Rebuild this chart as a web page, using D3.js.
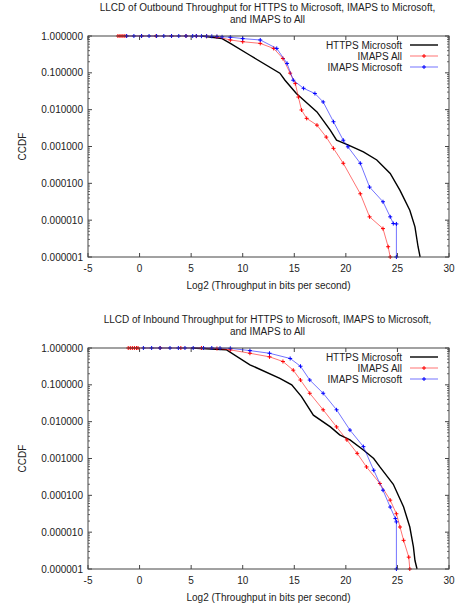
<!DOCTYPE html>
<html>
<head>
<meta charset="utf-8">
<script src="https://cdn.jsdelivr.net/npm/d3@7"></script>
<style>
  body { margin: 0; background: #fff; }
  text { font-family: "Liberation Sans", Arial, sans-serif; fill: #222; }
</style>
</head>
<body>
<div id="chart"></div>
<script>
// values: [log2 throughput, CCDF]
const xTicks = [-5, 0, 5, 10, 15, 20, 25, 30];
const yTicks = [1, 0.1, 0.01, 0.001, 0.0001, 0.00001, 0.000001];
const seriesNames = ["HTTPS Microsoft", "IMAPS All", "IMAPS Microsoft"];

const outHttps = [[6.0,1.0],[8.0,0.85],[8.8,0.63],[10.7,0.30],[13.6,0.098],[14.1,0.063],[15.2,0.0275],
  [17.2,0.0087],[18.5,0.00275],[19.1,0.00148],[20.2,0.0011],[21.7,0.00071],[23.0,0.00043],[24.3,0.000186],
  [25.25,0.0000646],[26.2,0.0000186],[26.7,0.0000066],[27.0,0.0000019],[27.2,0.000001]];
const outImapsAll = [[-2.1,1],[-1.9,1],[-1.7,1],[-1.5,1],[-1.3,1],[0.2,1],[1.6,1],[3.1,1],[4.5,1],[5.5,0.99],
  [6.5,0.98],[7.5,0.95],[8.8,0.78],[10.0,0.70],[11.7,0.63],[13.0,0.46],[13.9,0.245],[14.6,0.098],[15.1,0.051],
  [15.4,0.022],[15.7,0.0098],[16.2,0.0058],[17.2,0.0038],[18.1,0.0018],[18.8,0.00089],[19.75,0.00035],
  [21.4,0.000052],[22.3,0.0000123],[23.6,0.0000059],[24.1,0.0000019],[24.3,0.000001]];
const outImapsMs = [[-1.25,1],[-0.55,1],[0.19,1],[0.92,1],[1.65,1],[2.35,1],[3.1,1],[3.8,1],[4.5,1],[5.15,1],
  [5.5,1],[6.0,0.99],[6.5,0.99],[7.0,0.98],[7.5,0.97],[8.0,0.95],[8.8,0.93],[10.0,0.85],[11.7,0.78],[13.3,0.46],
  [14.3,0.18],[14.9,0.063],[15.9,0.038],[17.0,0.0275],[17.8,0.0162],[18.8,0.0047],[19.75,0.00148],[20.2,0.00098],
  [21.4,0.00035],[22.3,0.000079],[23.6,0.0000316],[24.3,0.0000123],[24.6,0.0000081],[24.9,0.0000079],[24.9,0.000001]];

const inHttps = [[5.0,1.0],[8.4,0.9],[10.7,0.35],[13.6,0.15],[14.75,0.1],[15.7,0.048],[16.85,0.015],[18.5,0.0072],
  [19.4,0.0044],[20.4,0.0032],[21.7,0.0017],[22.7,0.001],[23.3,0.00059],[24.6,0.0002],[25.6,0.000048],
  [26.2,0.0000138],[26.55,0.000004],[26.7,0.0000017],[26.9,0.000001]];
const inImapsAll = [[-1.1,1],[-0.9,1],[-0.7,1],[-0.5,1],[-0.3,1],[-0.15,1],[2.0,1],[4.0,1],[6.0,1],[7.5,0.97],
  [8.8,0.89],[10.7,0.72],[12.6,0.575],[13.9,0.43],[14.9,0.25],[15.6,0.135],[16.5,0.059],[17.8,0.021],[19.1,0.0072],
  [20.1,0.0032],[21.1,0.00138],[22.0,0.00059],[23.3,0.00021],[24.3,0.000074],[24.9,0.0000316],[25.25,0.0000138],
  [25.6,0.000006],[26.1,0.0000021],[26.2,0.000001]];
const inImapsMs = [[0.37,1],[1.17,1],[1.98,1],[2.95,1],[3.76,1],[4.4,1],[5.2,1],[6.2,1],[7.0,1],[7.8,0.99],
  [8.8,0.98],[10.7,0.85],[12.6,0.72],[14.6,0.52],[15.6,0.32],[16.5,0.135],[17.8,0.059],[19.1,0.021],[20.4,0.0059],
  [21.7,0.0021],[22.7,0.00048],[23.6,0.000138],[24.3,0.000048],[24.8,0.0000234],[24.9,0.000019],[24.9,0.000001]];

const titlesOut = ["LLCD of Outbound Throughput for HTTPS to Microsoft, IMAPS to Microsoft,", "and IMAPS to All"];
const titlesIn = ["LLCD of Inbound Throughput for HTTPS to Microsoft, IMAPS to Microsoft,", "and IMAPS to All"];

const W = 458, H = 608;
const left = 88, right = 449;
const colors = ["#000000", "#ff0000", "#0000ff"];

const svg = d3.select("#chart").append("svg").attr("width", W).attr("height", H);

function panel(top, bottom, titles, data) {
  const x = d3.scaleLinear().domain([-5, 30]).range([left, right]);
  const y = d3.scaleLog().domain([0.000001, 1]).range([bottom, top]);
  const g = svg.append("g");

  // titles
  g.selectAll("text.title").data(titles).enter().append("text")
    .attr("x", (left + right) / 2 - 1).attr("y", (d, i) => top - 25 + i * 11.5)
    .attr("text-anchor", "middle").style("font-size", "10px").text(d => d);

  // minor log ticks
  const minors = [];
  for (let e = -6; e < 0; e++) for (let m = 2; m <= 9; m++) minors.push(m * Math.pow(10, e));
  g.selectAll("line.minor").data(minors).enter().append("path")
    .attr("d", d => `M${left},${y(d)}h2M${right},${y(d)}h-2`)
    .attr("stroke", "#444").attr("stroke-width", 0.8);

  // major ticks + labels
  g.selectAll("path.ymaj").data(yTicks).enter().append("path")
    .attr("d", d => `M${left},${y(d)}h4M${right},${y(d)}h-4`)
    .attr("stroke", "#444");
  g.selectAll("text.ylab").data(yTicks).enter().append("text")
    .attr("x", left - 5).attr("y", d => y(d)).attr("dy", "0.35em")
    .attr("text-anchor", "end").style("font-size", "10px").text(d => d.toFixed(6));

  g.selectAll("path.xmaj").data(xTicks).enter().append("path")
    .attr("d", d => `M${x(d)},${bottom}v-4M${x(d)},${top}v4`)
    .attr("stroke", "#444");
  g.selectAll("text.xlab").data(xTicks).enter().append("text")
    .attr("x", d => x(d)).attr("y", bottom + 11).attr("dy", "0.35em")
    .attr("text-anchor", "middle").style("font-size", "10px").text(d => d);

  g.append("text").attr("x", (left + right) / 2).attr("y", bottom + 28).attr("dy", "0.35em")
    .attr("text-anchor", "middle").style("font-size", "10px")
    .text("Log2 (Throughput in bits per second)");
  g.append("text").attr("transform", `translate(22,${(top + bottom) / 2}) rotate(-90)`)
    .attr("dy", "0.35em").attr("text-anchor", "middle").style("font-size", "10px").text("CCDF");

  const line = d3.line().x(d => x(d[0])).y(d => y(d[1]));
  const plus = d => `M${x(d[0]) - 2},${y(d[1])}h4M${x(d[0])},${y(d[1]) - 2}v4`;

  data.forEach((s, i) => {
    g.append("path").datum(s).attr("d", line).attr("fill", "none")
      .attr("stroke", colors[i]).attr("stroke-width", i === 0 ? 1.4 : 1)
      .attr("stroke-opacity", i === 0 ? 1 : 0.55);
    if (i > 0) {
      g.selectAll(null).data(s).enter().append("path").attr("d", plus)
        .attr("stroke", colors[i]).attr("stroke-width", 1);
    }
  });

  // legend
  seriesNames.forEach((name, i) => {
    const ly = top + 9 + i * 11;
    g.append("text").attr("x", 402).attr("y", ly).attr("dy", "0.35em")
      .attr("text-anchor", "end").style("font-size", "10px").text(name);
    g.append("line").attr("x1", 410).attr("x2", 438).attr("y1", ly).attr("y2", ly)
      .attr("stroke", colors[i]).attr("stroke-width", i === 0 ? 1.4 : 1)
      .attr("stroke-opacity", i === 0 ? 1 : 0.55);
    if (i > 0) g.append("path").attr("d", `M422,${ly}h4M424,${ly - 2}v4`)
      .attr("stroke", colors[i]);
  });

  g.append("rect").attr("x", left).attr("y", top).attr("width", right - left).attr("height", bottom - top)
    .attr("fill", "none").attr("stroke", "#444");
}

panel(36, 257, titlesOut, [outHttps, outImapsAll, outImapsMs]);
panel(348, 569, titlesIn, [inHttps, inImapsAll, inImapsMs]);
</script>
</body>
</html>
